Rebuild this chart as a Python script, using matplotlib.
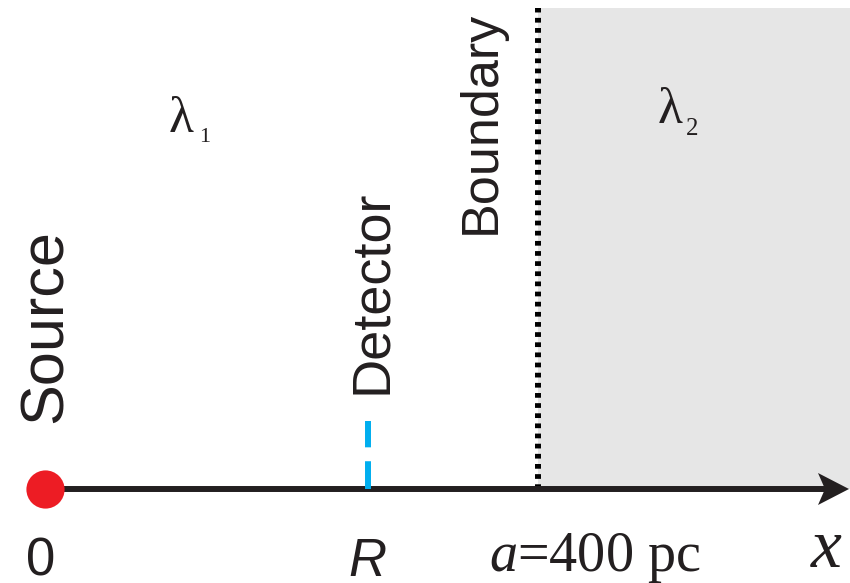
import matplotlib
matplotlib.use("Agg")
import matplotlib.pyplot as plt
from matplotlib.patches import Polygon

plt.rcParams["lines.scale_dashes"] = False
plt.rcParams["mathtext.fontset"] = "custom"
plt.rcParams["mathtext.rm"] = "Liberation Serif"
plt.rcParams["mathtext.it"] = "Liberation Serif:italic"

# Positions along the line of sight (pc)
source_x = 0.0
detector_x = 262.0
boundary_x = 400.0
x_end = 653.0

# Labels
source_label = "Source"
detector_label = "Detector"
boundary_label = "Boundary"
tick_labels = ["0", "R", r"$a$=400 pc", "x"]

SANS = "Liberation Sans"
SERIF = "Liberation Serif"
INK = "#231F20"

PX = 1.2325  # pixels per pc
fig = plt.figure(figsize=(8.5, 5.83), dpi=100)
ax = fig.add_axes([0, 0, 1, 1])
ax.set_xlim(-45 / PX, (850 - 45) / PX)
ax.set_ylim(-94, 489)
ax.axis("off")

def px2x(p):
    return (p - 45) / PX

def py2y(p):
    return 489 - p

# Region beyond the boundary
ax.fill_between([boundary_x, x_end + 10], 0, py2y(8), color="#E6E6E6", lw=0, zorder=0)

# Boundary (dotted)
ax.plot([boundary_x, boundary_x], [0, py2y(8)], color="black", lw=4.3,
        dashes=(3.4, 3.9), solid_capstyle="butt", dash_capstyle="butt", zorder=2)

# Axis line with a stealth-style arrowhead
tip = px2x(849)
head_len = 31 / PX
notch = 7 / PX
ax.plot([source_x, tip - head_len + notch], [0, 0], color=INK, lw=4.3,
        solid_capstyle="butt", zorder=3)
ax.add_patch(Polygon([(tip, 0), (tip - head_len, 16), (tip - head_len + notch, 0),
                      (tip - head_len, -16)], closed=True, color=INK, lw=0, zorder=3))

# Detector (dashed)
ax.plot([detector_x, detector_x], [0, py2y(421)], color="#00AEEF", lw=4.3,
        dashes=(20, 10), dash_capstyle="butt", zorder=4)

# Source
ax.plot([source_x], [0], "o", color="#ED1C24", ms=27.5, mec="none", zorder=5)

# Vertical labels
ax.text(px2x(62), py2y(326), source_label, rotation=90, rotation_mode="anchor",
        ha="center", va="baseline", family=SANS, fontsize=44, color=INK)
ax.text(detector_x + px2x(386) - px2x(368), py2y(292), detector_label, rotation=90,
        rotation_mode="anchor", ha="center", va="baseline", family=SANS,
        fontsize=39, color=INK)
ax.text(px2x(495), py2y(122), boundary_label, rotation=90, rotation_mode="anchor",
        ha="center", va="baseline", family=SANS, fontsize=37.5, color=INK)

# Axis labels
ax.text(source_x - 4 / PX, py2y(576), tick_labels[0], ha="center", va="baseline",
        family=SANS, fontsize=38, color=INK)
ax.text(detector_x, py2y(576), tick_labels[1], ha="center", va="baseline",
        family=SANS, style="italic", fontsize=38, color=INK)
ax.text(px2x(595), py2y(571), tick_labels[2], ha="center", va="baseline",
        family=SERIF, fontsize=40.5, color=INK)
ax.text(px2x(826), py2y(567), tick_labels[3], ha="center", va="baseline",
        family=SERIF, style="italic", fontsize=50, color=INK)

# Attenuation coefficients
ax.text(px2x(169), py2y(132), "λ", ha="left", va="baseline", family=SERIF,
        fontsize=37, color=INK)
ax.text(px2x(199), py2y(142), "1", ha="left", va="baseline", family=SERIF,
        fontsize=16, color=INK)
ax.text(px2x(658), py2y(123), "λ", ha="left", va="baseline", family=SERIF,
        fontsize=37, color=INK)
ax.text(px2x(686), py2y(135), "2", ha="left", va="baseline", family=SERIF,
        fontsize=18, color=INK)

fig.savefig("out.png", dpi=100)
